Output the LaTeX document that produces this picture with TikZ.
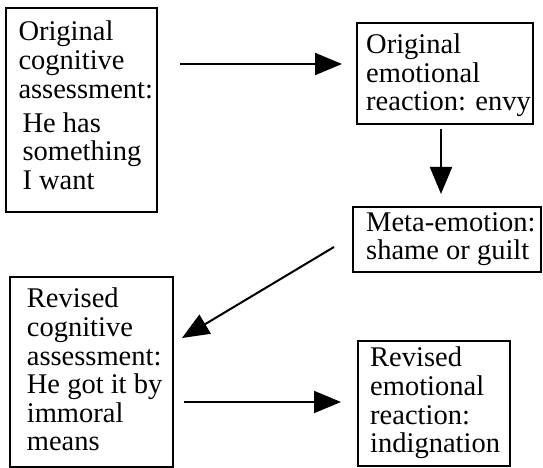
\documentclass[tikz,border=0pt]{standalone}
\usepackage{fontspec}
\setmainfont{Liberation Serif}
\usetikzlibrary{arrows.meta,calc}

\tikzset{
  box/.style={draw=black, line width=2pt, outer sep=0pt, inner sep=0pt},
  txt/.style={anchor=north west, inner sep=0pt, align=left,
    font=\fontsize{28.5}{28.6}\selectfont},
  arr/.style={line width=2pt, -{Triangle[length=27pt,width=22pt]}}
}

\begin{document}
\begin{tikzpicture}[x=1pt,y=1pt]
  \useasboundingbox (0,0) rectangle (543,468);

  % boxes
  \node[box, minimum width=151pt, minimum height=204pt] (b1) at (81.5,358) {};
  \node[box, minimum width=176pt, minimum height=101.5pt] (b2) at (445,394.25) {};
  \node[box, minimum width=188pt, minimum height=65pt] (b3) at (447,228.5) {};
  \node[box, minimum width=163pt, minimum height=190pt] (b4) at (91.5,96) {};
  \node[box, minimum width=152pt, minimum height=125pt] (b5) at (434,64.5) {};

  % box texts
  \node[txt] (t1) at (18.3,447) {Original\\cognitive\\assessment:\\[5.5pt]\hspace*{4pt}He has\\\hspace*{4pt}something\\\hspace*{4pt}I want};
  \node[txt] (t2) at (366,434.4) {Original\\emotional\\reaction: envy};
  \node[txt] (t3) at (366,256) {Meta-emotion:\\shame or guilt};
  \node[txt] (t4) at (26.7,180) {Revised\\cognitive\\assessment:\\He got it by\\immoral\\means};
  \node[txt] (t5) at (370,121) {Revised\\emotional\\reaction:\\indignation};

  % connectors
  \coordinate (a1s) at ($(b1.north east)+(23,-56)$);
  \draw[arr, shorten >=15pt] (a1s) -- (a1s -| b2.west);

  \coordinate (a2s) at ([xshift=-4pt]b2.south);
  \draw[arr, shorten <=4.5pt, shorten >=13pt] (a2s) -- (a2s |- b3.north);

  \coordinate (a3s) at ($(b3.west)+(-19,-7.5)$);
  \coordinate (a3e) at ($(b4.east)+(9,34)$);
  \draw[arr] (a3s) -- (a3e);

  \coordinate (a4s) at ($(b4.east)+(0,-30)$);
  \draw[arr, shorten <=11pt, shorten >=17pt] (a4s) -- (a4s -| b5.west);
\end{tikzpicture}
\end{document}
